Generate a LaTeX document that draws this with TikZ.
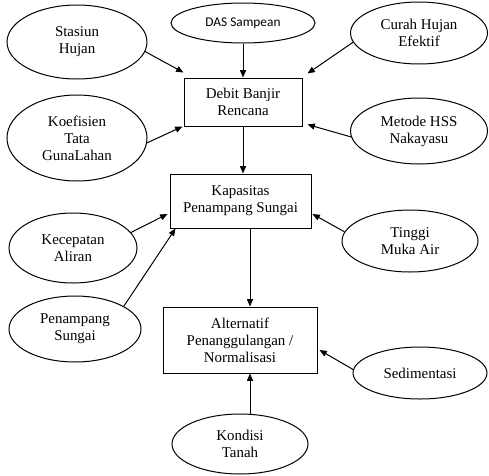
\documentclass[tikz,border=0pt]{standalone}
\usepackage{fontspec}
\setmainfont{Liberation Serif}
\newfontfamily\dasfont{Carlito}
\usetikzlibrary{shapes.geometric,arrows.meta,calc}
\tikzset{
  txt/.style={align=center, font=\fontsize{11.2}{12.8}\selectfont},
  ell/.style 2 args={ellipse, draw, line width=0.75pt, inner sep=0pt, txt,
    minimum width={#1*0.75pt}, minimum height={#2*0.75pt}},
  boxnode/.style 2 args={rectangle, draw, line width=0.75pt, inner sep=0pt, txt,
    minimum width={#1*0.75pt}, minimum height={#2*0.75pt}},
  arr/.style={line width=0.75pt, -{Triangle[length=5.5pt,width=4.5pt]}}
}
\begin{document}
\begin{tikzpicture}[x=0.75pt,y=-0.75pt]
\useasboundingbox (0,0) rectangle (489,475);
% boxes
\node[boxnode={118}{48}] (debit) at (243,102) {Debit Banjir\\Rencana};
\node[boxnode={141}{54}] (kap) at (240.5,201) {Kapasitas\\Penampang Sungai};
\node[boxnode={154}{66}] (alt) at (240,340) {Alternatif\\Penanggulangan /\\Normalisasi};
% ellipses
\node[ell={140}{74}] (stas) at (77,42) {Stasiun\\Hujan};
\node[ell={144}{40}, font=\dasfont\fontsize{10}{12}\selectfont] (das) at (243,23) {DAS Sampean};
\node[ell={137}{62}] (curah) at (419,33) {Curah Hujan\\Efektif};
\node[ell={140}{86}] (koef) at (77,138) {Koefisien\\Tata\\GunaLahan};
\node[ell={137}{66}] (metode) at (419,131) {Metode HSS\\Nakayasu};
\node[ell={128}{70}] (kecep) at (73,248) {Kecepatan\\Aliran};
\node[ell={132}{66}] (penamp) at (75,329) {Penampang\\Sungai};
\node[ell={136}{62}] (tinggi) at (410,241) {Tinggi\\Muka Air};
\node[ell={134}{52}] (sedim) at (420,373) {Sedimentasi};
\node[ell={136}{60}] (kondisi) at (240,444) {Kondisi\\Tanah};
% connectors
\draw[arr] (stas.-8) -- ($(debit.north west)+(0,-5)$);
\draw[arr] (das.south) -- (das.south |- debit.north);
\draw[arr] (curah.188) -- ($(debit.north east)+(5,-4)$);
\draw[arr] (koef.-4) -- ($(debit.south west)+(-1,0)$);
\draw[arr] (metode.185) -- ($(debit.south east)+(5,-2)$);
\draw[arr] (debit.south) -- (debit.south |- kap.north);
\draw[arr] (kecep.15) -- ($(kap.west)+(-2,13)$);
\draw[arr] (penamp.25) -- ($(kap.south west)+(6,0)$);
\draw[arr] (tinggi.172) -- ($(kap.east)+(1,13)$);
\coordinate (kx) at ($(kap.south)+(9.5,0)$);
\draw[arr] (kx) -- (kx |- alt.north);
\draw[arr] (sedim.177) -- ($(alt.east)+(2,10)$);
\coordinate (ky) at ($(alt.south)+(10,0)$);
\draw[arr] (ky |- kondisi.north) -- (ky);
\end{tikzpicture}
\end{document}
